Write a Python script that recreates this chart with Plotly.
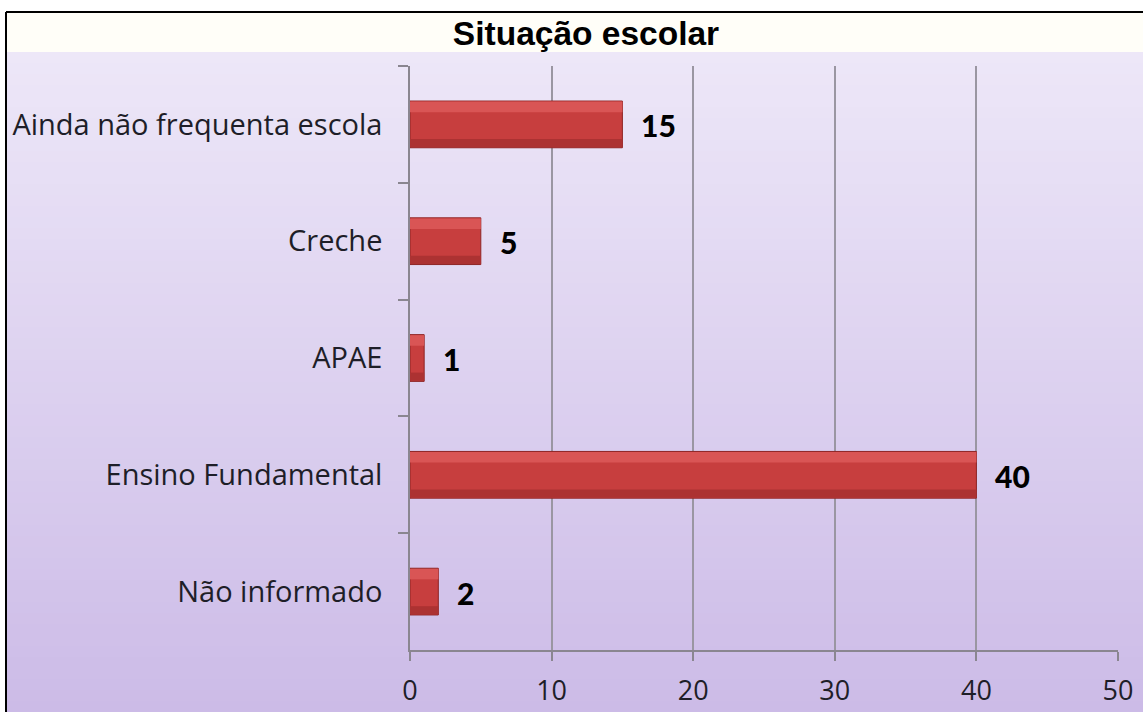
import plotly.graph_objects as go

categories = ["Ainda não frequenta escola", "Creche", "APAE", "Ensino Fundamental", "Não informado"]
values = [15, 5, 1, 40, 2]
x_ticks = [0, 10, 20, 30, 40, 50]
title_text = "Situação escolar"

W, H = 1143, 712
L, R, T, B = 410, 25, 66, 62
PW, PH = W - L - R, H - T - B


def px2x(px):
    return (px - L) / PW


def py2y(py):
    return (H - B - py) / PH


fig = go.Figure()

# main bar body
fig.add_trace(go.Bar(
    y=categories, x=values, orientation="h", width=0.4,
    marker=dict(color="#C73E3E", line=dict(color="#8E2424", width=1)),
    hoverinfo="skip", showlegend=False,
))
# top highlight (bevel)
fig.add_trace(go.Bar(
    y=categories, x=values, orientation="h", width=0.09, offset=-0.195,
    marker=dict(color="#D95555", line=dict(width=0)),
    hoverinfo="skip", showlegend=False,
))
# bottom shade (bevel)
fig.add_trace(go.Bar(
    y=categories, x=values, orientation="h", width=0.07, offset=0.125,
    marker=dict(color="#AC3232", line=dict(width=0)),
    hoverinfo="skip", showlegend=False,
))

# data labels
for c, v in zip(categories, values):
    fig.add_annotation(
        x=v, y=c, xref="x", yref="y", text=str(v), showarrow=False,
        xanchor="left", xshift=17, yshift=-1,
        font=dict(family="Lato, 'Open Sans', sans-serif", size=30, color="#000000", weight=900),
    )

shapes = []
# background gradient
top_c = (237, 231, 248)
bot_c = (204, 187, 231)
y0px, y1px = 52, H
n = 60
for i in range(n):
    a = y0px + (y1px - y0px) * i / n
    b = y0px + (y1px - y0px) * (i + 1) / n + 1
    t = (i + 0.5) / n
    col = tuple(round(top_c[k] + (bot_c[k] - top_c[k]) * t) for k in range(3))
    shapes.append(dict(
        type="rect", xref="paper", yref="paper", layer="below",
        x0=px2x(7), x1=px2x(W + 5), y0=py2y(b), y1=py2y(a),
        fillcolor="rgb(%d,%d,%d)" % col, line=dict(width=0),
    ))
# title band
shapes.append(dict(
    type="rect", xref="paper", yref="paper", layer="below",
    x0=px2x(7), x1=px2x(W + 5), y0=py2y(52), y1=py2y(12),
    fillcolor="#FFFEF8", line=dict(width=0),
))
# outer border (top and left)
shapes.append(dict(type="line", xref="paper", yref="paper",
                   x0=px2x(6), x1=px2x(W + 5), y0=py2y(12), y1=py2y(12),
                   line=dict(color="#000000", width=2)))
shapes.append(dict(type="line", xref="paper", yref="paper",
                   x0=px2x(6), x1=px2x(6), y0=py2y(12), y1=py2y(H + 5),
                   line=dict(color="#000000", width=2)))

fig.update_layout(
    width=W, height=H,
    margin=dict(l=L, r=R, t=T, b=B, autoexpand=False),
    paper_bgcolor="#FFFFFF",
    plot_bgcolor="rgba(0,0,0,0)",
    barmode="overlay",
    shapes=shapes,
    title=dict(
        text=f"<b>{title_text}</b>", xref="container", yref="container",
        x=586 / W, y=1 - 33 / H, xanchor="center", yanchor="middle",
        font=dict(family="'Liberation Sans', Arial, sans-serif", size=33.5, color="#000000"),
    ),
    xaxis=dict(
        range=[0, 50], tickvals=x_ticks, ticks="outside", ticklen=9,
        tickcolor="#8a8690", tickwidth=1.5,
        showgrid=True, gridcolor="#9a96a2", gridwidth=1.5,
        showline=True, linecolor="#8a8690", linewidth=1.5,
        zeroline=False, ticklabelstandoff=7, automargin=False,
        tickfont=dict(family="'Open Sans', Lato, sans-serif", size=27, color="#1e1e28"),
        fixedrange=True,
    ),
    yaxis=dict(
        categoryorder="array", categoryarray=categories, autorange="reversed",
        ticks="outside", tickson="boundaries", ticklen=10,
        tickcolor="#8a8690", tickwidth=1.5,
        showline=True, linecolor="#8a8690", linewidth=1.5,
        showgrid=False, ticklabelstandoff=20, automargin=False,
        tickfont=dict(family="'Open Sans', Lato, sans-serif", size=29, color="#1e1e28"),
        fixedrange=True,
    ),
)

fig.write_html(
    "out.html",
    config={"displayModeBar": False},
    post_script="document.body.style.margin='0';document.body.style.overflow='hidden';",
)
